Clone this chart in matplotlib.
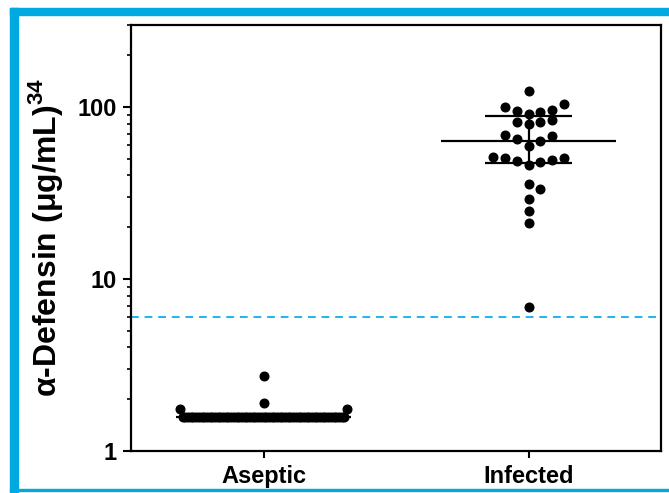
import numpy as np
import matplotlib
matplotlib.use("Agg")
import matplotlib.pyplot as plt
from matplotlib.patches import Rectangle
from matplotlib.ticker import FixedLocator, LogLocator, NullFormatter

plt.rcParams['font.family'] = ['Liberation Sans', 'DejaVu Sans']

# %% Data
groups = ['Aseptic', 'Infected']
aseptic = [1.58] * 61 + [1.75, 1.75, 1.9, 2.73]
infected = [123.8, 103.7, 100, 96.5, 94.8, 93.2, 91.5,
            84.4, 82.2, 81.5, 79.4,
            68.8, 68.2, 65.0, 63.5, 59.4,
            51.3, 50.8, 50.4, 49.5, 48.6, 48.2, 46.1,
            35.6, 33.2, 29.2, 24.9, 21.2, 6.87]
medians = [1.58, 63.5]
q1 = [1.58, 47.2]
q3 = [1.58, 88.8]
cutoff = 6.0

BLUE = '#00a9e0'
DASH_BLUE = '#1eb4ec'


def prism_offsets(vals, step=0.045, half_max=0.315):
    """Prism-style scatter: bin by 0.1 log units, spread each row center-out."""
    vals = np.asarray(vals, float)
    bins = np.round(np.log10(vals) * 10).astype(int)
    xs = np.zeros(len(vals))
    for b in np.unique(bins):
        idx = np.where(bins == b)[0]
        idx = idx[np.argsort(vals[idx], kind='stable')]
        k = len(idx) // 2
        s = step if k == 0 else min(step, half_max / k)
        for i, j in enumerate(idx):
            slot = (i + 1) // 2 * (1 if i % 2 else -1)
            xs[j] = slot * s
    return xs


# %% Plot
fig = plt.figure(figsize=(6.69, 4.93), dpi=100)
ax = fig.add_axes([131 / 669, 1 - 451 / 493, 530 / 669, 426 / 493])

for pos, vals in enumerate([aseptic, infected]):
    xs = pos + prism_offsets(vals)
    ax.plot(xs, vals, 'o', color='black', ms=6.2, mec='black', zorder=3)
    ax.hlines(medians[pos], pos - 0.33, pos + 0.33, color='black', lw=1.6, zorder=2)
    ax.hlines([q1[pos], q3[pos]], pos - 0.165, pos + 0.165, color='black', lw=1.6, zorder=2)
    ax.vlines(pos, q1[pos], q3[pos], color='black', lw=1.6, zorder=2)

ax.axhline(cutoff, color=DASH_BLUE, lw=1.4, ls=(0, (4, 3)), zorder=1)

ax.set_yscale('log')
ax.set_ylim(1, 300)
ax.set_xlim(-0.5, 1.5)
ax.set_xticks([0, 1])
ax.set_xticklabels(groups, fontsize=17, fontweight='bold')
ax.yaxis.set_major_locator(FixedLocator([1, 10, 100]))
ax.set_yticklabels(['1', '10', '100'], fontsize=17, fontweight='bold')
ax.yaxis.set_minor_locator(LogLocator(base=10, subs=np.arange(2, 10)))
ax.yaxis.set_minor_formatter(NullFormatter())
ax.tick_params(axis='y', which='major', length=6, width=1.5, pad=4)
ax.tick_params(axis='y', which='minor', length=3, width=1.2)
ax.tick_params(axis='x', length=5, width=1.5, pad=5)
for sp in ax.spines.values():
    sp.set_linewidth(1.6)

ax.set_ylabel('α-Defensin (μg/mL)$^{\\mathregular{34}}$', fontsize=23,
              fontweight='bold', labelpad=9)

# blue frame around the figure (top, left, bottom)
fig.patches.append(Rectangle((10 / 669, 1 - 15 / 493), 659 / 669, 7 / 493,
                             transform=fig.transFigure, color=BLUE, zorder=0))
fig.patches.append(Rectangle((10 / 669, 0), 8 / 669, 485 / 493,
                             transform=fig.transFigure, color=BLUE, zorder=0))
fig.patches.append(Rectangle((10 / 669, 2 / 493), 659 / 669, 2 / 493,
                             transform=fig.transFigure, color=BLUE, zorder=0))

fig.savefig('out.png', dpi=100)
